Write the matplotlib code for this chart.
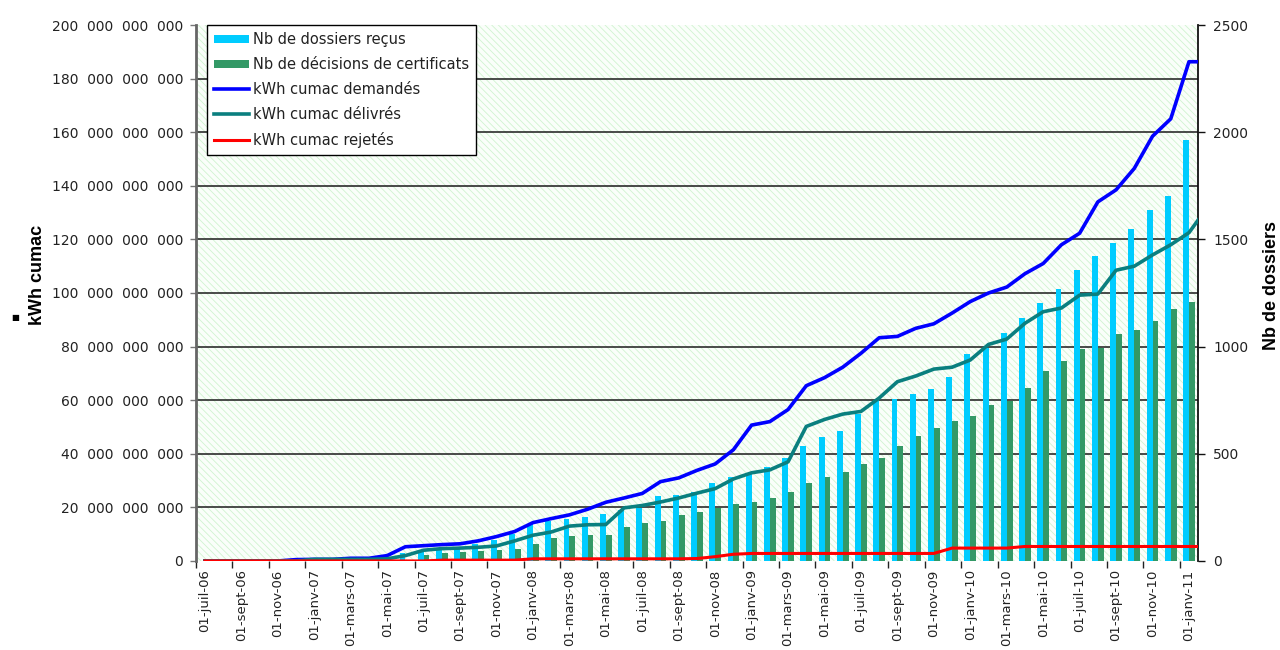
import numpy as np
import pandas as pd
import matplotlib
matplotlib.use('Agg')
import matplotlib.pyplot as plt
from matplotlib.patches import Rectangle, Patch
from matplotlib.lines import Line2D
from matplotlib.ticker import FuncFormatter, MultipleLocator

# Données : une catégorie par mois, de juil-06 à janv-11
debut = '2006-07-01'
nb_mois = 55
mois_fr = ['janv', 'févr', 'mars', 'avr', 'mai', 'juin',
           'juil', 'août', 'sept', 'oct', 'nov', 'déc']

# Nb de dossiers (axe de droite)
dossiers_recus = [0, 0, 0, 0, 0, 0, 0, 0, 15, 18, 25, 35, 43, 50, 63, 78, 97,
                  125, 172, 188, 198, 207, 219, 238, 246, 303, 309, 323, 362,
                  390, 409, 440, 479, 536, 577, 606, 686, 751, 756, 779, 804,
                  860, 964, 992, 1065, 1132, 1202, 1267, 1357, 1423, 1482,
                  1547, 1636, 1702, 1963]
decisions = [0, 0, 0, 0, 0, 0, 0, 0, 0, 0, 0, 0, 30, 36, 41, 47, 51, 57, 77,
             106, 118, 123, 123, 160, 179, 188, 213, 230, 246, 266, 277, 295,
             320, 362, 390, 415, 452, 482, 536, 583, 619, 654, 678, 728, 746,
             805, 886, 934, 987, 992, 1060, 1077, 1119, 1174, 1209]

# kWh cumac en milliards (axe de gauche), relevés au milieu de chaque mois
# + un dernier point en bord droit du graphique
mois_courbes = list(range(55)) + [54.5]
kwh_demandes = [0, 0, 0, 0, 0, 0.5, 0.6, 0.6, 1.0, 1.0, 2.0, 5.3, 5.7, 6.1,
                6.4, 7.5, 9.1, 11.0, 14.3, 15.8, 17.2, 19.3, 21.9, 23.5, 25.2,
                29.6, 31.0, 33.8, 36.2, 41.5, 50.7, 52.0, 56.5, 65.4, 68.4,
                72.3, 77.5, 83.3, 83.8, 86.8, 88.5, 92.5, 96.8, 100.0, 102.2,
                107.2, 111.0, 118.0, 122.3, 134.0, 138.5, 146.5, 158.5, 165.0,
                186.3, 186.3]
kwh_delivres = [0, 0, 0, 0, 0, 0, 0.6, 0.6, 0.6, 0.6, 0.8, 2.0, 4.0, 4.6, 4.8,
                5.1, 5.6, 7.5, 9.6, 10.8, 13.0, 13.5, 13.6, 19.8, 20.7, 22.0,
                23.5, 25.3, 27.0, 30.6, 32.9, 34.0, 37.0, 50.2, 52.8, 54.8,
                55.8, 60.8, 66.9, 69.0, 71.6, 72.3, 75.0, 80.8, 82.8, 88.7,
                93.0, 94.4, 99.2, 99.6, 108.5, 110.0, 114.2, 118.0, 122.5,
                127.2]
kwh_rejetes = [0, 0, 0, 0, 0, 0, 0, 0, 0, 0, 0, 0, 0, 0.3, 0.3, 0.3, 0.3,
               0.3, 0.8, 0.8, 0.8, 0.8, 0.8, 0.8, 0.8, 0.8, 0.8, 0.9, 1.6,
               2.5, 2.8, 2.8, 2.8, 2.8, 2.8, 2.8, 2.8, 2.8, 2.8, 2.8, 2.8,
               4.8, 4.8, 4.8, 4.8, 5.4, 5.4, 5.4, 5.4, 5.4, 5.4, 5.4, 5.4,
               5.4, 5.4, 5.4]

legendes = ['Nb de dossiers reçus', 'Nb de décisions de certificats',
            'kWh cumac demandés', 'kWh cumac délivrés', 'kWh cumac rejetés']

c_recus = '#00ccff'
c_decis = '#339966'
c_dem = '#0000ff'
c_del = '#0a7f7f'
c_rej = '#ff0000'

plt.rcParams['font.family'] = ['DejaVu Sans']
plt.rcParams['hatch.linewidth'] = 0.6

dates = pd.date_range(debut, periods=nb_mois, freq='MS')
etiquettes = ['01-%s-%s' % (mois_fr[d.month - 1], d.strftime('%y')) for d in dates]
x = np.arange(nb_mois)

fig = plt.figure(figsize=(12.8, 6.5), dpi=100)
ax = fig.add_axes([0.153, 0.137, 0.783, 0.8245])
ax2 = ax.twinx()
ax.set_zorder(ax2.get_zorder() + 1)
ax.patch.set_visible(False)

# fond hachuré vert pâle
fond = Rectangle((0, 0), 1, 1, transform=ax2.transAxes, facecolor='#fafefa',
                 edgecolor='#d0f3d0', hatch='\\' * 5, linewidth=0, zorder=0)
ax2.add_patch(fond)

# quadrillage horizontal (sous les barres)
for yg in np.arange(250, 2500, 250):
    ax2.axhline(yg, color='#1a1a1a', lw=1.1, zorder=0.5)

# barres : nb de dossiers
ax2.bar(x - 0.16, dossiers_recus, width=0.32, color=c_recus, zorder=2)
ax2.bar(x + 0.16, decisions, width=0.32, color=c_decis, zorder=2)

# courbes kWh cumac
ax.plot(mois_courbes, np.array(kwh_demandes) * 1e9, color=c_dem, lw=2.6)
ax.plot(mois_courbes, np.array(kwh_delivres) * 1e9, color=c_del, lw=2.6)
ax.plot(mois_courbes, np.array(kwh_rejetes) * 1e9, color=c_rej, lw=2.2)

ax.set_xlim(-0.5, 54.5)
ax.set_ylim(0, 200e9)
ax2.set_ylim(0, 2500)

# séparateur de milliers large, comme dans Excel
ax.yaxis.set_major_locator(MultipleLocator(20e9))
ax.yaxis.set_major_formatter(FuncFormatter(lambda v, p: f'{int(round(v)):,}'.replace(',', '  ')))
ax.tick_params(axis='y', direction='out', length=4, width=1, color='#777',
               labelsize=10, pad=5, labelcolor='#222')
ax2.yaxis.set_major_locator(MultipleLocator(500))
ax2.tick_params(axis='y', direction='out', length=5, width=1, color='#111',
                labelsize=10, pad=6, labelcolor='#222')

ax.set_xticks(x[::2])
ax.set_xticklabels(etiquettes[::2], rotation=90, fontsize=9.5, color='#222')
ax.set_xticks(np.arange(-0.5, 54, 2), minor=True)
ax.tick_params(axis='x', which='major', length=0, pad=6)
ax.tick_params(axis='x', which='minor', length=5, width=1, color='#222')

for s in ['top', 'right', 'bottom']:
    ax.spines[s].set_visible(False)
ax.spines['left'].set_color('#666')
ax.spines['left'].set_linewidth(2)
for s in ['top', 'left', 'bottom']:
    ax2.spines[s].set_visible(False)
ax2.spines['right'].set_color('#111')
ax2.spines['right'].set_linewidth(1.3)

fig.text(0.029, 0.577, 'kWh cumac', rotation=90, ha='center', va='center',
         fontsize=13, fontweight='bold', family='Liberation Sans')
fig.text(0.0117, 0.511, '■', ha='center', va='center', fontsize=6)
fig.text(0.993, 0.5615, 'Nb de dossiers', rotation=90, ha='center', va='center',
         fontsize=13, fontweight='bold', family='Liberation Sans')

poignees = [Patch(facecolor=c_recus, edgecolor='none'),
            Patch(facecolor=c_decis, edgecolor='none'),
            Line2D([], [], color=c_dem, lw=2.6),
            Line2D([], [], color=c_del, lw=2.6),
            Line2D([], [], color=c_rej, lw=2.2)]
leg = ax.legend(poignees, legendes, loc='upper left', bbox_to_anchor=(0.011, 1.0),
                borderaxespad=0, fancybox=False, edgecolor='black', framealpha=1,
                fontsize=10.5, handlelength=2.4, handleheight=0.5,
                handletextpad=0.25, labelspacing=0.68, borderpad=0.5)
leg.get_frame().set_linewidth(1.0)
for t in leg.get_texts():
    t.set_color('#222')

fig.savefig('out.png', dpi=100)
